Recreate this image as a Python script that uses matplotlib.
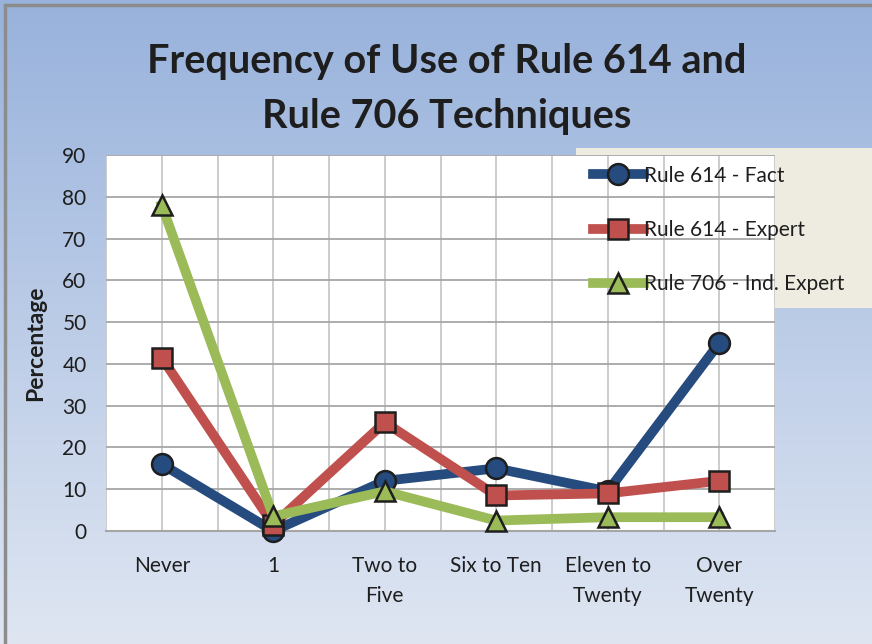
import matplotlib
matplotlib.use("Agg")
import matplotlib.pyplot as plt
import numpy as np
from matplotlib.patches import Rectangle

# ── Data ──────────────────────────────────────────────────────────────────────
categories = ["Never", "1", "Two to\nFive", "Six to Ten", "Eleven to\nTwenty", "Over\nTwenty"]
fact       = [16, 0, 12, 15, 9.5, 45]
expert     = [41.5, 1.5, 26, 8.5, 9, 12]
ind_expert = [78, 3.5, 9.5, 2.5, 3.3, 3.3]

series_names = ["Rule 614 - Fact", "Rule 614 - Expert", "Rule 706 - Ind. Expert"]
y_ticks = list(range(0, 91, 10))

BLUE, RED, GREEN = "#254b7f", "#c0504d", "#9bbb59"

plt.rcParams["font.family"] = ["Lato", "DejaVu Sans"]

W, H = 872, 644
fig = plt.figure(figsize=(W / 100, H / 100), dpi=100)

# ── Background gradient ───────────────────────────────────────────────────────
bg = fig.add_axes([0, 0, 1, 1], zorder=-10)
top = np.array([0x98, 0xb2, 0xdc]) / 255
bot = np.array([0xdf, 0xe6, 0xf2]) / 255
t = np.linspace(0, 1, 256)[:, None]
grad = top[None, :] * (1 - t) + bot[None, :] * t
bg.imshow(grad[:, None, :], aspect="auto", extent=[0, 1, 0, 1])
bg.add_patch(Rectangle((5 / W, -0.1), 1.2, 1 - 5 / H + 0.1, transform=bg.transAxes,
                       fill=False, edgecolor="#8c8c8c", lw=2.5))
# legend box runs off the right edge in the original
bg.add_patch(Rectangle((576 / W, 1 - 308 / H), 0.5, 160 / H, transform=bg.transAxes,
                       facecolor="#eeece1", edgecolor="none", zorder=5))
bg.set_xlim(0, 1)
bg.set_ylim(0, 1)
bg.axis("off")

# ── Plot area ─────────────────────────────────────────────────────────────────
ax = fig.add_axes([106 / W, 1 - 531 / H, (775 - 106) / W, (531 - 155) / H])
ax.set_facecolor("white")
x = np.arange(len(categories))

styles = [(fact, BLUE, "o"), (expert, RED, "s"), (ind_expert, GREEN, "^")]
handles = []
for (vals, col, mk), name in zip(styles, series_names):
    h, = ax.plot(x, vals, color=col, lw=7, marker=mk, markersize=15 if mk != "s" else 14,
                 markerfacecolor=col, markeredgecolor="#1e1e1e", markeredgewidth=1.8,
                 label=name, clip_on=False, zorder=3, solid_joinstyle="round")
    handles.append(h)

ax.set_xlim(-0.5, len(categories) - 0.5)
ax.set_ylim(0, 90)
ax.set_yticks(y_ticks)
ax.set_xticks(x)
ax.set_xticklabels(categories, linespacing=1.6)
ax.set_xticks(np.arange(-0.5, len(categories), 1.0), minor=True)
ax.grid(axis="y", color="#a6a6a6", lw=1.3)
ax.grid(axis="x", which="both", color="#c8c8c8", lw=1.3)
ax.set_axisbelow(True)
for s in ["top", "right", "left"]:
    ax.spines[s].set_visible(False)
ax.spines["bottom"].set_color("#a6a6a6")
ax.spines["bottom"].set_linewidth(1.5)
ax.tick_params(axis="both", which="both", length=0, labelsize=15, colors="#1e1e1e")
ax.tick_params(axis="x", pad=18)
ax.tick_params(axis="y", pad=14)
ax.set_ylabel("Percentage", fontsize=16.5, fontweight="bold", color="#1e1e1e", labelpad=12)

# ── Title ─────────────────────────────────────────────────────────────────────
fig.text(447 / W, 1 - 89 / H, "Frequency of Use of Rule 614 and\nRule 706 Techniques",
         ha="center", va="center", fontsize=28.5, fontweight="bold", color="#1e1e1e",
         linespacing=1.6)

# ── Legend ────────────────────────────────────────────────────────────────────
leg = fig.legend(handles=handles, loc="upper left", bbox_to_anchor=(577 / W, 1 - 150 / H),
                 fontsize=15, frameon=False, handlelength=2.45,
                 handletextpad=0.0, labelspacing=1.65, borderpad=0.75,
                 borderaxespad=0, markerscale=1.0)
leg.set_zorder(10)
for txt in leg.get_texts():
    txt.set_color("#1e1e1e")

fig.savefig("out.png", dpi=100)
